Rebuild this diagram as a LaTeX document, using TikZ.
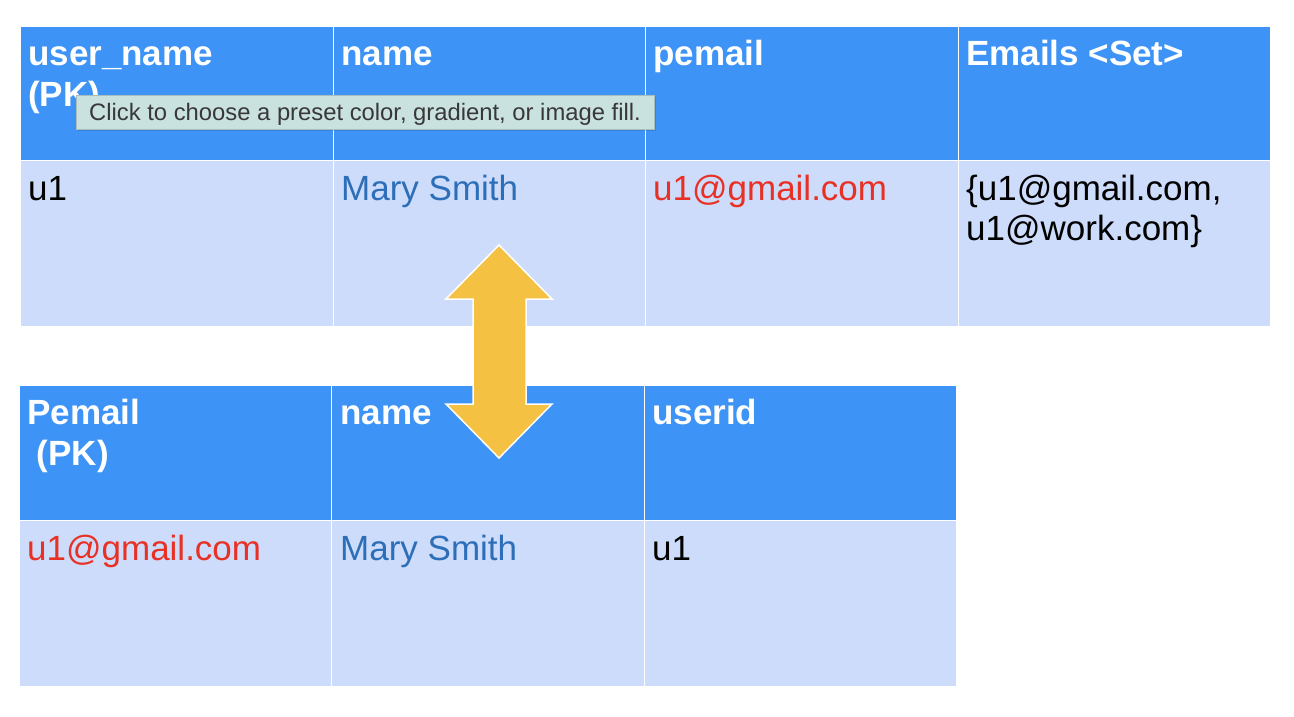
\documentclass[tikz,border=0pt]{standalone}
\usepackage{fontspec}
\setmainfont{Liberation Sans}
\usetikzlibrary{positioning}
\definecolor{headblue}{HTML}{3D94F6}
\definecolor{rowblue}{HTML}{CDDCFA}
\definecolor{nameblue}{HTML}{2C6EB8}
\definecolor{mailred}{HTML}{E83024}
\definecolor{arrowgold}{HTML}{F5C142}
\definecolor{tipfill}{HTML}{C9E1DF}
\definecolor{tipedge}{HTML}{A9BDBB}
\tikzset{headcell/.style = {fill=headblue, draw=white, line width=1pt},
         rowcell/.style = {fill=rowblue, draw=white, line width=1pt},
         head/.style = {anchor=base west, inner sep=0pt, align=left, text=white,
                        font=\fontsize{35}{41}\selectfont\bfseries},
         entry/.style = {anchor=base west, inner sep=0pt, align=left,
                         font=\fontsize{35}{40}\selectfont}}

\begin{document}
\begin{tikzpicture}[x=1pt, y=-1pt]
    \useasboundingbox (0, 0) rectangle (1294, 716);

    % users table
    \draw [headcell] (20, 26) rectangle (333, 160);
    \draw [headcell] (333, 26) rectangle (645, 160);
    \draw [headcell] (645, 26) rectangle (958, 160);
    \draw [headcell] (958, 26) rectangle (1270, 160);
    \draw [rowcell] (20, 160) rectangle (333, 326);
    \draw [rowcell] (333, 160) rectangle (645, 326);
    \draw [rowcell] (645, 160) rectangle (958, 326);
    \draw [rowcell] (958, 160) rectangle (1270, 326);

    % base of a two-line node = its last line
    \node [head] (uname) at (28, 106) {user\_name\\(PK)};
    \node [head] (uhname) at (341, 65) {name};
    \node [head] (upemail) at (653, 65) {pemail};
    \node [head] (uemails) at (966, 65) {Emails <Set>};
    \node [entry] (uid) at (28, 200) {u1};
    \node [entry, text=nameblue] (umary) at (341, 200) {Mary Smith};
    \node [entry, text=mailred] (umail) at (653, 200) {u1@gmail.com};
    \node [entry] (uset) at (966, 240) {\{u1@gmail.com,\\u1@work.com\}};

    % emails table
    \draw [headcell] (19, 385) rectangle (331, 520);
    \draw [headcell] (331, 385) rectangle (644, 520);
    \draw [headcell] (644, 385) rectangle (956, 520);
    \draw [rowcell] (19, 520) rectangle (331, 686);
    \draw [rowcell] (331, 520) rectangle (644, 686);
    \draw [rowcell] (644, 520) rectangle (956, 686);

    \node [head] (epemail) at (27, 465) {Pemail\\~(PK)};
    \node [head] (ehname) at (340, 424) {name};
    \node [head] (euserid) at (652, 424) {userid};
    \node [entry, text=mailred] (email) at (27, 560) {u1@gmail.com};
    \node [entry, text=nameblue] (emary) at (340, 560) {Mary Smith};
    \node [entry] (eid) at (652, 560) {u1};

    % double arrow
    \draw [fill=arrowgold, draw=white, line width=1.5pt, line join=miter]
        (499, 245) -- (552, 299) -- (526, 299) -- (526, 404) -- (552, 404)
        -- (499, 458) -- (446, 404) -- (473, 404) -- (473, 299) -- (446, 299) -- cycle;

    % tooltip
    \fill [black, opacity=0.12] (78, 97) rectangle (656, 131);
    \draw [fill=tipfill, draw=tipedge, line width=0.6pt] (76, 95) rectangle (654, 129);
    \node [anchor=base west, inner sep=0pt, text=black!78, font=\fontsize{23.8}{28}\selectfont]
        (tip) at (89, 120) {Click to choose a preset color, gradient, or image fill.};
\end{tikzpicture}
\end{document}
